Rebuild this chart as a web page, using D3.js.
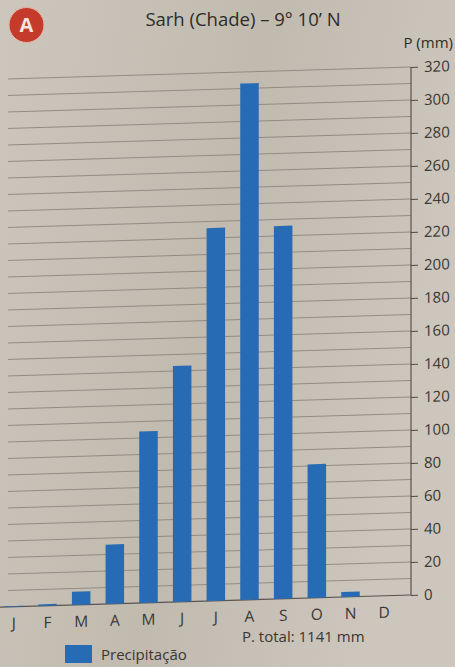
<!DOCTYPE html>
<html>
<head>
<meta charset="utf-8">
<script src="https://cdn.jsdelivr.net/npm/d3@7"></script>
<style>
  html, body { margin: 0; padding: 0; background: #c9c3b9; }
  svg { display: block; }
  text { font-family: "Open Sans", "Noto Sans", sans-serif; }
</style>
</head>
<body>
<div id="chart"></div>
<script>
// ---- data ----
const monthKeys = ["Jan","Fev","Mar","Abr","Mai","Jun","Jul","Ago","Set","Out","Nov","Dez"];
const monthLabels = ["J","F","M","A","M","J","J","A","S","O","N","D"];
const precipitation = [0.5, 1, 8, 36, 104, 143, 226, 313, 226, 81, 3, 0];
const yTicks = [0,20,40,60,80,100,120,140,160,180,200,220,240,260,280,300,320];
const gridValues = [10,20,30,40,50,60,70,80,90,100,110,120,130,140,150,160,170,180,190,200,210,220,230,240,250,260,270,280,290,300,310,320];
const titleText = "Sarh (Chade) \u2013 9\u00B0 10\u2019 N";
const unitText = "P (mm)";
const legendText = "Precipita\u00E7\u00E3o";
const totalText = "P. total: 1141 mm";
const badgeText = "A";

// ---- layout ----
const W = 455, H = 667;
const axisX = 411;
const gridLeft = 8;

const svg = d3.select("#chart").append("svg")
  .attr("width", W).attr("height", H);

// paper background
const defs = svg.append("defs");
const grad = defs.append("linearGradient").attr("id", "paper")
  .attr("x1", "0").attr("x2", "1").attr("y1", "0").attr("y2", "0.3");
grad.append("stop").attr("offset", "0").attr("stop-color", "#ccc6bc");
grad.append("stop").attr("offset", "0.55").attr("stop-color", "#c0baaf");
grad.append("stop").attr("offset", "1").attr("stop-color", "#ccc6bd");
svg.append("rect").attr("width", W).attr("height", H).attr("fill", "url(#paper)");

const x = d3.scaleBand().domain(monthKeys).range([-3, 401])
  .paddingInner(0.45).paddingOuter(0.225);
const y = d3.scaleLinear().domain([0, 320]).range([595, 67]);

// plot group with slight photographic tilt, pivoted at the axis
const ang = -1.7;
const shift = -Math.tan(ang * Math.PI / 180) * axisX;
const g = svg.append("g").attr("transform", `translate(0,${shift}) skewY(${ang})`);

// gridlines
g.append("g").selectAll("line").data(gridValues).join("line")
  .attr("x1", gridLeft).attr("x2", axisX)
  .attr("y1", d => y(d)).attr("y2", d => y(d))
  .attr("stroke", "#8c877f").attr("stroke-width", 0.9);

// baseline
g.append("line").attr("x1", 0).attr("x2", axisX)
  .attr("y1", y(0)).attr("y2", y(0))
  .attr("stroke", "#5a5650").attr("stroke-width", 1.2);

// bars
g.append("g").selectAll("rect").data(precipitation).join("rect")
  .attr("x", (d, i) => x(monthKeys[i]))
  .attr("width", x.bandwidth())
  .attr("y", d => y(d))
  .attr("height", d => y(0) - y(d))
  .attr("fill", "#276bb4");

// right axis
const axis = d3.axisRight(y).tickValues(yTicks).tickSize(7).tickPadding(6);
const ax = g.append("g").attr("transform", `translate(${axisX},0)`).call(axis);
ax.select(".domain").attr("stroke", "#4e4a45").attr("stroke-width", 1.1)
  .attr("d", `M0,${y(320)}V${y(0)}`);
ax.selectAll(".tick line").attr("stroke", "#4e4a45").attr("stroke-width", 1.1);
ax.selectAll(".tick text").attr("fill", "#3a3733")
  .style("font-size", "15px").style("font-family", "'Open Sans', sans-serif");

// month labels
g.append("g").selectAll("text").data(monthLabels).join("text")
  .attr("x", (d, i) => x(monthKeys[i]) + x.bandwidth() / 2)
  .attr("y", y(0) + 22)
  .attr("text-anchor", "middle")
  .attr("fill", "#3a3733")
  .style("font-size", "15.5px")
  .text(d => d);

// title
svg.append("text").attr("x", 243).attr("y", 26)
  .attr("text-anchor", "middle").attr("fill", "#2e2c29")
  .style("font-size", "18.5px").text(titleText);

// badge
svg.append("circle").attr("cx", 26.5).attr("cy", 25).attr("r", 17.5)
  .attr("fill", "#c43b2b").attr("stroke", "#e7b5a8").attr("stroke-width", 1);
svg.append("text").attr("x", 26.5).attr("y", 32)
  .attr("text-anchor", "middle").attr("fill", "#f4e4df")
  .style("font-size", "20px").style("font-weight", "bold").text(badgeText);

// unit label
svg.append("text").attr("x", 453).attr("y", 48)
  .attr("text-anchor", "end").attr("fill", "#2e2c29")
  .style("font-size", "15px").text(unitText);

// legend
svg.append("rect").attr("x", 65).attr("y", 645).attr("width", 27).attr("height", 18)
  .attr("fill", "#276bb4");
svg.append("text").attr("x", 101).attr("y", 660)
  .attr("fill", "#3a3733").style("font-size", "15px").text(legendText);
svg.append("text").attr("x", 242).attr("y", 642)
  .attr("fill", "#3a3733").style("font-size", "15px").text(totalText);
</script>
</body>
</html>
